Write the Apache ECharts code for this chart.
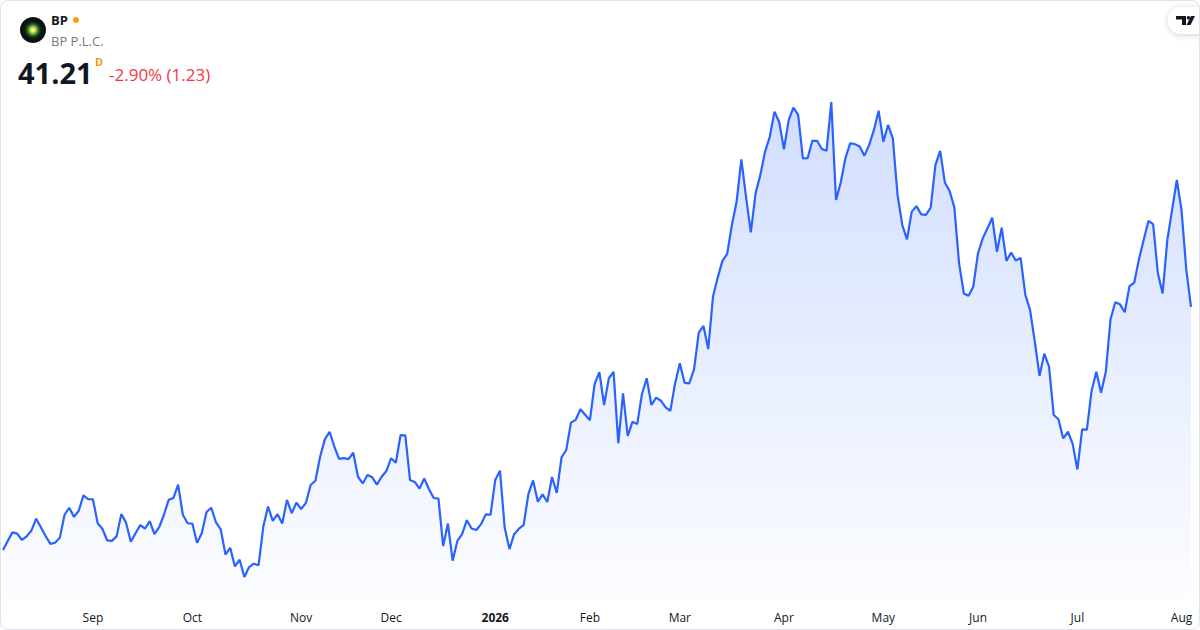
<!DOCTYPE html>
<html>
<head>
<meta charset="utf-8">
<script src="https://cdn.jsdelivr.net/npm/echarts@6/dist/echarts.min.js"></script>
<style>
html,body{margin:0;padding:0;background:#ffffff;}
#c{width:1200px;height:630px;position:absolute;left:0;top:0;}
#frame{position:absolute;left:0;top:0;width:1198px;height:628px;border:1px solid #e0e3eb;border-radius:8px;pointer-events:none;}
</style>
</head>
<body>
<div id="c"></div>
<div id="frame"></div>
<script>
// ---- data ----
const ticker = 'BP';
const companyName = 'BP P.L.C.';
const lastPrice = '41.21';
const changeText = '-2.90% (1.23)';
const startDate = '2025-08-05';
const holidays = ['2025-09-01','2025-11-27','2025-12-25','2026-01-01','2026-01-19','2026-02-16','2026-04-03','2026-05-25','2026-06-19','2026-07-03'];
const monthNames = ['Jan','Feb','Mar','Apr','May','Jun','Jul','Aug','Sep','Oct','Nov','Dec'];
const closes = [
33.21,33.51,33.79,33.75,33.54,33.66,33.85,34.24,33.96,33.67,
33.41,33.45,33.61,34.37,34.60,34.30,34.50,35.01,34.88,34.88,
34.09,33.91,33.53,33.51,33.66,34.39,34.11,33.48,33.76,34.03,
33.91,34.16,33.73,33.96,34.37,34.86,34.92,35.36,34.37,34.09,
34.08,33.45,33.76,34.46,34.60,34.12,33.89,33.06,33.28,32.67,
32.89,32.32,32.65,32.76,32.71,33.98,34.64,34.17,34.39,34.08,
34.86,34.42,34.77,34.56,34.76,35.35,35.49,36.28,36.85,37.10,
36.61,36.21,36.23,36.20,36.41,35.62,35.40,35.68,35.60,35.36,
35.62,35.81,36.23,36.08,36.99,36.98,35.51,35.45,35.23,35.56,
35.21,34.92,34.90,33.34,34.08,32.86,33.51,33.73,34.19,33.92,
33.87,34.06,34.38,34.37,35.51,35.82,33.94,33.24,33.73,33.91,
34.03,35.05,35.50,34.80,35.04,34.79,35.61,35.09,36.26,36.50,
37.40,37.49,37.84,37.66,37.48,38.67,39.06,37.98,38.86,39.07,
36.72,38.36,36.96,37.43,37.35,38.34,38.86,37.98,38.22,38.12,
37.90,37.79,38.69,39.35,38.71,38.69,39.15,40.36,40.58,39.82,
41.54,42.17,42.72,42.95,43.90,44.67,46.06,44.81,43.66,44.94,
45.54,46.31,46.80,47.63,47.28,46.39,47.35,47.76,47.52,46.09,
46.10,46.67,46.67,46.40,46.34,47.94,44.72,45.30,46.11,46.59,
46.56,46.48,46.18,46.53,47.02,47.66,46.64,47.19,46.75,44.89,
43.90,43.43,44.34,44.52,44.25,44.23,44.47,45.87,46.34,45.30,
45.02,44.48,42.64,41.65,41.57,41.87,42.97,43.46,43.79,44.14,
43.02,43.81,42.72,42.99,42.73,42.82,41.60,41.10,40.06,38.94,
39.67,39.24,37.65,37.51,36.88,37.10,36.70,35.86,37.18,37.17,
38.45,39.07,38.38,39.07,40.80,41.36,41.29,41.03,41.89,42.00,
42.77,43.41,44.03,43.93,42.31,41.65,43.41,44.39,45.38,44.39,
42.44,41.21
];

// ---- trading-day categories ----
function fmt(d){
  const m = d.getUTCMonth()+1, day = d.getUTCDate();
  return d.getUTCFullYear()+'-'+(m<10?'0':'')+m+'-'+(day<10?'0':'')+day;
}
function buildDates(n){
  const out = [];
  const hol = new Set(holidays);
  const d = new Date(startDate+'T00:00:00Z');
  while(out.length < n){
    const wd = d.getUTCDay();
    const s = fmt(d);
    if(wd!==0 && wd!==6 && !hol.has(s)) out.push(s);
    d.setUTCDate(d.getUTCDate()+1);
  }
  return out;
}
const dates = buildDates(closes.length);
const monthStart = {};
for(let i=1;i<dates.length;i++){
  if(dates[i].slice(5,7)!==dates[i-1].slice(5,7)) monthStart[dates[i]] = true;
}

const FONT = '"Open Sans", "Noto Sans", sans-serif';
const chart = echarts.init(document.getElementById('c'), null, {renderer:'svg'});
chart.setOption({
  animation:false,
  backgroundColor:'#ffffff',
  grid:{left:3, right:9, top:80, bottom:30, containLabel:false},
  xAxis:{
    type:'category',
    data:dates,
    boundaryGap:false,
    axisLine:{show:false},
    axisTick:{show:false},
    splitLine:{show:false},
    axisLabel:{
      interval:function(index, value){ return !!monthStart[value]; },
      hideOverlap:false,
      margin:11,
      color:'#131722',
      fontSize:12,
      fontFamily:FONT,
      formatter:function(value){
        if(!monthStart[value]) return '';
        const m = parseInt(value.slice(5,7),10);
        if(m===1) return '{b|'+value.slice(0,4)+'}';
        return monthNames[m-1];
      },
      rich:{b:{fontWeight:'bold', fontSize:12, color:'#131722', fontFamily:FONT}}
    }
  },
  yAxis:{
    type:'value',
    min:31.566,
    max:48.669,
    show:false,
    splitLine:{show:false}
  },
  series:[{
    type:'line',
    data:closes,
    symbol:'none',
    smooth:false,
    lineStyle:{color:'#2962ff', width:2.2},
    areaStyle:{
      color:new echarts.graphic.LinearGradient(0,0,0,1,[
        {offset:0, color:'rgba(41,98,255,0.30)'},
        {offset:1, color:'rgba(41,98,255,0.02)'}
      ])
    }
  }],
  graphic:[
    {type:'circle', shape:{cx:33, cy:30, r:13},
     style:{fill:new echarts.graphic.RadialGradient(0.5,0.5,0.5,[
       {offset:0, color:'#ffffff'},
       {offset:0.12, color:'#f3ee5a'},
       {offset:0.28, color:'#7cc242'},
       {offset:0.45, color:'#1c5e27'},
       {offset:0.65, color:'#0d1811'},
       {offset:1, color:'#0a0d0b'}
     ])}},
    {type:'text', style:{text:ticker, x:51, y:20, verticalAlign:'middle', font:'bold 13px '+FONT, fill:'#131722'}},
    {type:'circle', shape:{cx:76, cy:20, r:3}, style:{fill:'#ff9800'}},
    {type:'text', style:{text:companyName, x:51, y:41, verticalAlign:'middle', font:'13px '+FONT, fill:'#787b86'}},
    {type:'text', style:{text:lastPrice, x:18, y:72, verticalAlign:'middle', font:'bold 29px '+FONT, fill:'#131722'}},
    {type:'text', style:{text:'D', x:95, y:61, verticalAlign:'middle', font:'bold 11px '+FONT, fill:'#ff9800'}},
    {type:'text', style:{text:changeText, x:109, y:74, verticalAlign:'middle', font:'17px '+FONT, fill:'#f23645'}},
    {type:'rect', shape:{x:1168, y:7, width:44, height:27, r:13},
     style:{fill:'#ffffff', shadowBlur:6, shadowColor:'rgba(0,0,0,0.18)', shadowOffsetY:1}},
    {type:'polygon', shape:{points:[[1176,16],[1186,16],[1186,25],[1182,25],[1182,19.5],[1176,19.5]]}, style:{fill:'#131722'}},
    {type:'circle', shape:{cx:1188.5, cy:17.8, r:1.8}, style:{fill:'#131722'}},
    {type:'polygon', shape:{points:[[1191,16],[1195,16],[1190.5,25],[1186.5,25]]}, style:{fill:'#131722'}}
  ]
});
</script>
</body>
</html>
